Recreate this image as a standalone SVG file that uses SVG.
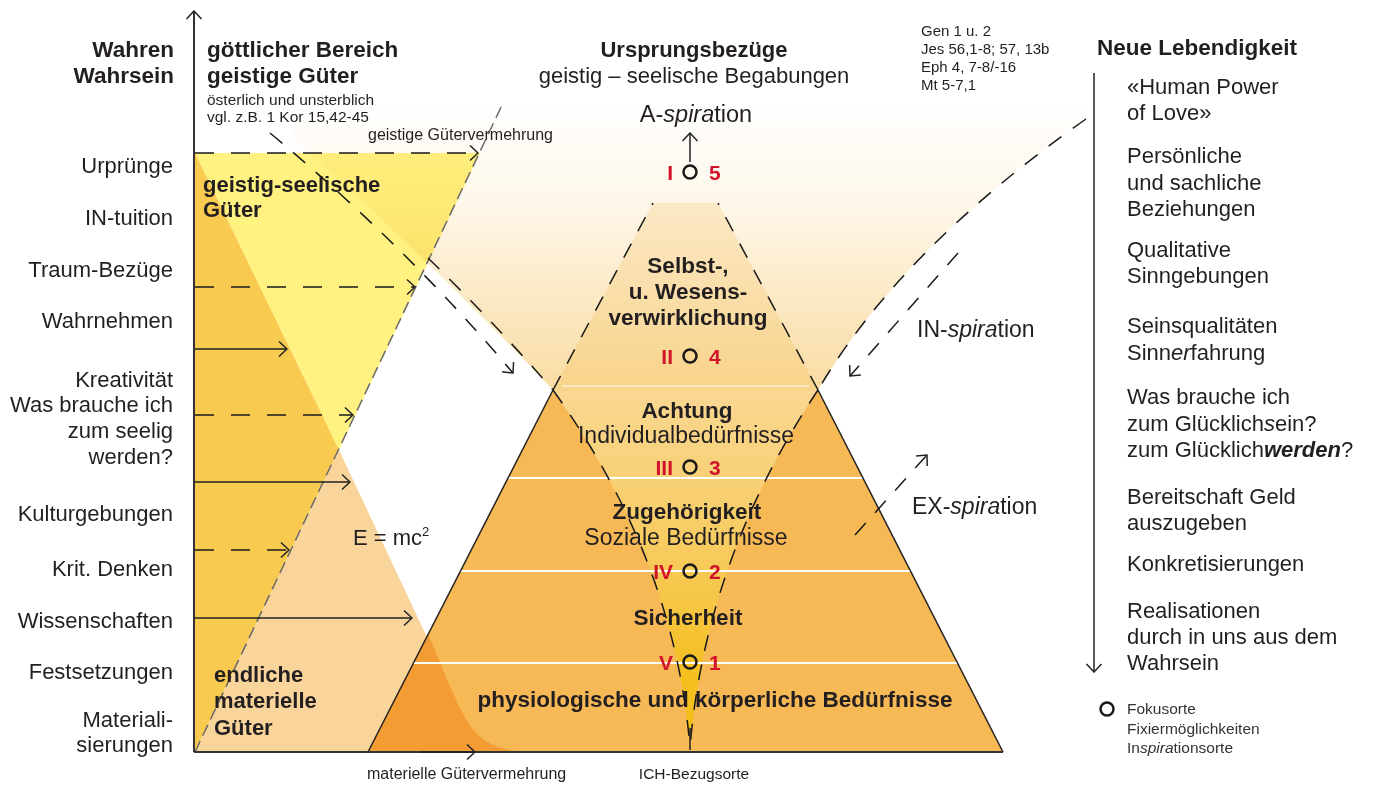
<svg xmlns="http://www.w3.org/2000/svg" width="1373" height="785" viewBox="0 0 1373 785">
<defs>
 <linearGradient id="gV" x1="0" y1="100" x2="0" y2="390" gradientUnits="userSpaceOnUse">
  <stop offset="0" stop-color="#FFFFFF"/>
  <stop offset="0.35" stop-color="#FEF7EA"/>
  <stop offset="1" stop-color="#F9DCA2"/>
 </linearGradient>
 <linearGradient id="gTrap" x1="0" y1="203" x2="0" y2="390" gradientUnits="userSpaceOnUse">
  <stop offset="0" stop-color="#FBE8C6"/>
  <stop offset="1" stop-color="#F8D48A"/>
 </linearGradient>
 <linearGradient id="gFun" x1="0" y1="390" x2="0" y2="748" gradientUnits="userSpaceOnUse">
  <stop offset="0" stop-color="#F9D793"/>
  <stop offset="0.45" stop-color="#F7CB5E"/>
  <stop offset="0.8" stop-color="#F4BF1E"/>
  <stop offset="1" stop-color="#F4BE18"/>
 </linearGradient>
 <marker id="ah" viewBox="0 0 12 20" refX="11" refY="10" markerWidth="12" markerHeight="20" markerUnits="userSpaceOnUse" orient="auto">
  <path d="M3,2.5 L11,10 L3,17.5" fill="none" stroke="#222" stroke-width="1.5" stroke-dasharray="none"/>
 </marker>
</defs>
<style>
 .t{font-family:"Liberation Sans",Arial,sans-serif;fill:#231f20}
 .b{font-weight:bold}
 .lab{font-size:22px}
 .r{text-anchor:end}
 .m{text-anchor:middle}
 .sm{font-size:15.5px;fill:#333}
 .red{fill:#D2142B;font-weight:bold;font-size:21px;font-family:"Liberation Sans",Arial,sans-serif}
 .dash{fill:none;stroke:#1a1a1a;stroke-width:1.5;stroke-dasharray:16 14}
 .dashh{fill:none;stroke:#1a1a1a;stroke-width:1.6;stroke-dasharray:19 17}
 .ln{fill:none;stroke:#222;stroke-width:1.5}
 .ax{fill:none;stroke:#333;stroke-width:2}
 .foc{fill:none;stroke:#1a1a1a;stroke-width:2.5}
 .wl{stroke:#fff;stroke-width:2}
 .i{font-style:italic}
</style>

<g id="areas">
 <path d="M295,140 Q445,275 553,390 L818,390 Q900,250 1086,119 L1090,95 L290,95 Z" fill="url(#gV)"/>
 <path d="M195,153 L339,450 L195,752 Z" fill="#F8CB50"/>
 <path d="M195,153 L480,153 L339,450 Z" fill="#FFF281" style="mix-blend-mode:multiply"/>
 <path d="M339,450 L481,752 L195,752 Z" fill="#F9D59B"/>
 <path d="M553,390 L818,390 L1003,752 L368,752 Z" fill="#F7B955"/>
 <path d="M368,752 L428,634 C445,672 458,712 475,732 C490,748 510,752 535,752 Z" fill="#F39C33"/>
 <path d="M653,203 L718,203 L818,390 L553,390 Z" fill="url(#gTrap)"/>
 <path d="M553,390 Q675,560 690,748 Q705,560 818,390 Z" fill="url(#gFun)"/>
 <line x1="562" y1="386" x2="809" y2="386" stroke="#FDF0D2" stroke-width="1.5"/>
 <line class="wl" x1="507" y1="478" x2="864" y2="478"/>
 <line class="wl" x1="460" y1="571" x2="911" y2="571"/>
 <line class="wl" x1="413" y1="663" x2="958" y2="663"/>
</g>

<g id="connectors">
 <path d="M195,752 L503,103" fill="none" stroke="#6a6a6a" stroke-width="1.5" stroke-dasharray="12 6"/>
 <path class="dashh" d="M195,153 L478,153" marker-end="url(#ah)"/>
 <path class="dashh" d="M195,287 L415,287" marker-end="url(#ah)"/>
 <path class="ln" d="M195,349 L287,349" marker-end="url(#ah)"/>
 <path class="dashh" d="M195,415 L353,415" marker-end="url(#ah)"/>
 <path class="ln" d="M195,482 L350,482" marker-end="url(#ah)"/>
 <path class="dashh" d="M195,550 L289,550" marker-end="url(#ah)"/>
 <path class="ln" d="M195,618 L412,618" marker-end="url(#ah)"/>
 <path class="dash" d="M270,133 Q405,245 513,373" marker-end="url(#ah)"/>
 <path class="dash" d="M428,258 Q490,318 553,390"/>
 <path class="dash" d="M1086,119 Q900,250 818,390"/>
 <path class="dash" d="M553,390 Q675,560 690,748"/>
 <path class="dash" d="M818,390 Q705,560 690,748"/>
 <path class="dash" d="M553,390 L653,203"/>
 <path class="dash" d="M818,390 L718,203"/>
 <path class="ln" d="M368,752 L553,390" stroke-width="1.8"/>
 <path class="ln" d="M1003,752 L818,390" stroke-width="1.8"/>
 <path class="dash" d="M958,253 L850,376" marker-end="url(#ah)"/>
 <path class="dash" d="M855,535 L927,455" marker-end="url(#ah)"/>
 <path class="ln" d="M690,162 L690,133" marker-end="url(#ah)"/>
 <path class="ln" d="M690,728 L690,750"/>
 <path class="ax" d="M194,752 L1003,752"/>
 <path class="ln" d="M420,752 L475,752" marker-end="url(#ah)"/>
 <path class="ax" d="M194,752 L194,11" marker-end="url(#ah)"/>
 <path class="ln" d="M1094,73 L1094,672" marker-end="url(#ah)"/>
</g>

<g id="header-left">
 <text class="t b r" x="174" y="57" font-size="22.5">Wahren</text>
 <text class="t b r" x="174" y="83" font-size="22.5">Wahrsein</text>
 <text class="t b" x="207" y="57" font-size="22.5">göttlicher Bereich</text>
 <text class="t b" x="207" y="83" font-size="22.5">geistige Güter</text>
 <text class="t" x="207" y="105" font-size="15.5" fill="#333">österlich und unsterblich</text>
 <text class="t" x="207" y="122" font-size="15.5">vgl. z.B. 1 Kor 15,42-45</text>
 <text class="t" x="368" y="140" font-size="16">geistige Gütervermehrung</text>
</g>

<g id="header-center">
 <text class="t b m" x="694" y="57" font-size="22">Ursprungsbezüge</text>
 <text class="t m" x="694" y="83" font-size="22">geistig – seelische Begabungen</text>
 <text class="t m" x="696" y="122" font-size="23.5">A-<tspan class="i">spira</tspan>tion</text>
</g>

<g id="refs">
 <text class="t" x="921" y="36" font-size="15">Gen 1 u. 2</text>
 <text class="t" x="921" y="54" font-size="15">Jes 56,1-8; 57, 13b</text>
 <text class="t" x="921" y="72" font-size="15">Eph 4, 7-8/-16</text>
 <text class="t" x="921" y="90" font-size="15">Mt 5-7,1</text>
</g>

<g id="left-labels">
 <text class="t lab r" x="173" y="173">Urprünge</text>
 <text class="t lab r" x="173" y="225">IN-tuition</text>
 <text class="t lab r" x="173" y="277">Traum-Bezüge</text>
 <text class="t lab r" x="173" y="328">Wahrnehmen</text>
 <text class="t lab r" x="173" y="387">Kreativität</text>
 <text class="t lab r" x="173" y="412">Was brauche ich</text>
 <text class="t lab r" x="173" y="438">zum seelig</text>
 <text class="t lab r" x="173" y="464">werden?</text>
 <text class="t lab r" x="173" y="521">Kulturgebungen</text>
 <text class="t lab r" x="173" y="576">Krit. Denken</text>
 <text class="t lab r" x="173" y="628">Wissenschaften</text>
 <text class="t lab r" x="173" y="679">Festsetzungen</text>
 <text class="t lab r" x="173" y="727">Materiali-</text>
 <text class="t lab r" x="173" y="752">sierungen</text>
</g>

<g id="goods">
 <text class="t b" x="203" y="192" font-size="22">geistig-seelische</text>
 <text class="t b" x="203" y="217" font-size="22">Güter</text>
 <text class="t b" x="214" y="682" font-size="22">endliche</text>
 <text class="t b" x="214" y="708" font-size="22">materielle</text>
 <text class="t b" x="214" y="735" font-size="22">Güter</text>
 <text class="t" x="353" y="545" font-size="22" fill="#333">E = mc<tspan font-size="13" dy="-9">2</tspan></text>
 <text class="t" x="367" y="779" font-size="16" fill="#333">materielle Gütervermehrung</text>
</g>

<g id="pyramid-labels">
 <text class="t b m" x="688" y="273" font-size="22.5">Selbst-,</text>
 <text class="t b m" x="688" y="299" font-size="22.5">u. Wesens-</text>
 <text class="t b m" x="688" y="325" font-size="22.5">verwirklichung</text>
 <text class="t b m" x="687" y="418" font-size="22.5">Achtung</text>
 <text class="t m" x="686" y="443" font-size="23">Individualbedürfnisse</text>
 <text class="t b m" x="687" y="519" font-size="22.5">Zugehörigkeit</text>
 <text class="t m" x="686" y="545" font-size="23">Soziale Bedürfnisse</text>
 <text class="t b m" x="688" y="625" font-size="22.5">Sicherheit</text>
 <text class="t b m" x="715" y="707" font-size="22.5">physiologische und körperliche Bedürfnisse</text>
 <text class="t m" x="694" y="779" font-size="15.5" fill="#333">ICH-Bezugsorte</text>
</g>

<g id="focus-points">
 <circle class="foc" cx="690" cy="172" r="6.5"/>
 <text class="red" x="673" y="180" text-anchor="end">I</text>
 <text class="red" x="709" y="180">5</text>
 <circle class="foc" cx="690" cy="356" r="6.5"/>
 <text class="red" x="673" y="364" text-anchor="end">II</text>
 <text class="red" x="709" y="364">4</text>
 <circle class="foc" cx="690" cy="467" r="6.5"/>
 <text class="red" x="673" y="475" text-anchor="end">III</text>
 <text class="red" x="709" y="475">3</text>
 <circle class="foc" cx="690" cy="571" r="6.5"/>
 <text class="red" x="673" y="579" text-anchor="end">IV</text>
 <text class="red" x="709" y="579">2</text>
 <circle class="foc" cx="690" cy="662" r="6.5"/>
 <text class="red" x="673" y="670" text-anchor="end">V</text>
 <text class="red" x="709" y="670">1</text>
</g>

<g id="spiration-labels">
 <text class="t" x="917" y="337" font-size="23">IN-<tspan class="i">spira</tspan>tion</text>
 <text class="t" x="912" y="514" font-size="23">EX-<tspan class="i">spira</tspan>tion</text>
</g>

<g id="right-column">
 <text class="t b" x="1097" y="55" font-size="22.5">Neue Lebendigkeit</text>
 <text class="t lab" x="1127" y="94">«Human Power</text>
 <text class="t lab" x="1127" y="120">of Love»</text>
 <text class="t lab" x="1127" y="163">Persönliche</text>
 <text class="t lab" x="1127" y="190">und sachliche</text>
 <text class="t lab" x="1127" y="216">Beziehungen</text>
 <text class="t lab" x="1127" y="257">Qualitative</text>
 <text class="t lab" x="1127" y="283">Sinngebungen</text>
 <text class="t lab" x="1127" y="333">Seinsqualitäten</text>
 <text class="t lab" x="1127" y="360">Sinn<tspan class="i">er</tspan>fahrung</text>
 <text class="t lab" x="1127" y="404">Was brauche ich</text>
 <text class="t lab" x="1127" y="431">zum Glücklich<tspan class="i">s</tspan>ein?</text>
 <text class="t lab" x="1127" y="457">zum Glücklich<tspan class="i b">werden</tspan>?</text>
 <text class="t lab" x="1127" y="504">Bereitschaft Geld</text>
 <text class="t lab" x="1127" y="530">auszugeben</text>
 <text class="t lab" x="1127" y="571">Konkretisierungen</text>
 <text class="t lab" x="1127" y="618">Realisationen</text>
 <text class="t lab" x="1127" y="644">durch in uns aus dem</text>
 <text class="t lab" x="1127" y="670">Wahrsein</text>
</g>

<g id="legend">
 <circle class="foc" cx="1107" cy="709" r="6.5"/>
 <text class="t sm" x="1127" y="714">Fokusorte</text>
 <text class="t sm" x="1127" y="734">Fixiermöglichkeiten</text>
 <text class="t sm" x="1127" y="753">In<tspan class="i">spira</tspan>tionsorte</text>
</g>
</svg>
